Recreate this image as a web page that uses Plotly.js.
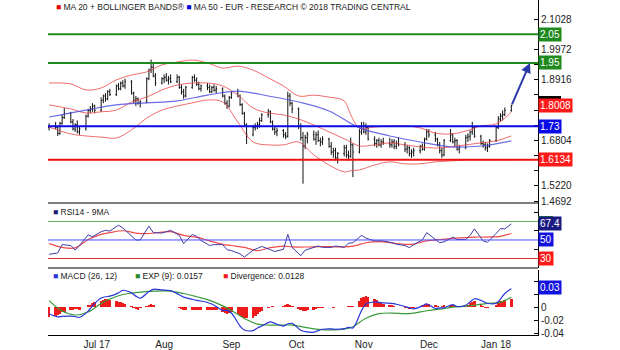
<!DOCTYPE html>
<html><head><meta charset="utf-8">
<script src="https://cdn.plot.ly/plotly-3.0.1.min.js"></script>
<style>html,body{margin:0;padding:0;background:#fff}#chart{width:620px;height:350px}</style>
</head><body><div id="chart"></div>
<script>
// ---- trading days (weekdays) of the chart ----
const firstDay = '2017-06-09', lastDay = '2018-01-08';
function tradingDays(a, b) {
  const out = []; let d = new Date(a + 'T00:00:00Z'); const e = new Date(b + 'T00:00:00Z');
  while (d <= e) { const w = d.getUTCDay(); if (w !== 0 && w !== 6) out.push(d.toISOString().slice(0, 10)); d = new Date(d.getTime() + 86400000); }
  return out;
}
const dates = tradingDays(firstDay, lastDay);

// ---- price bars ----
const open = [
 1.725,1.73,1.725,1.705,1.74,1.76,1.775,1.745,1.72,1.735,1.71,1.72,1.765,1.785,1.79,1.80,
 1.785,1.82,1.835,1.825,1.85,1.84,1.87,1.86,1.88,1.87,1.885,1.845,1.82,1.825,1.81,1.815,1.895,1.925,1.935,1.905,1.88,
 1.895,1.90,1.89,1.895,1.885,1.90,1.865,1.85,1.835,1.865,1.90,1.89,1.875,1.86,1.87,1.865,1.85,1.865,1.855,1.86,1.835,1.81,1.80,
 1.83,1.845,1.835,1.805,1.775,1.735,1.70,1.725,1.73,1.735,1.75,1.77,1.78,1.745,1.72,1.71,1.715,1.70,1.695,1.835,1.81,
 1.79,1.73,1.69,1.66,1.69,1.70,1.685,1.70,1.68,1.675,1.685,1.66,1.64,1.645,1.62,1.635,1.655,1.63,1.625,1.665,1.64,1.71,
 1.73,1.71,1.725,1.685,1.67,1.68,1.665,1.675,1.67,1.665,1.675,1.66,1.67,1.665,1.65,1.655,1.635,1.64,1.645,1.66,1.65,1.685,
 1.71,1.70,1.685,1.665,1.645,1.63,1.68,1.70,1.675,1.68,1.65,1.655,1.69,1.695,1.71,1.725,1.695,1.67,1.665,1.655,1.66,
 1.68,1.725,1.755,1.765,1.77,1.785];
const high = [
 1.74,1.745,1.73,1.745,1.77,1.793,1.78,1.755,1.74,1.75,1.73,1.77,1.79,1.80,1.81,1.805,
 1.83,1.84,1.845,1.855,1.86,1.875,1.88,1.885,1.89,1.895,1.89,1.85,1.835,1.83,1.82,1.90,1.93,1.962,1.95,1.915,1.90,
 1.91,1.915,1.905,1.91,1.91,1.905,1.875,1.86,1.87,1.905,1.91,1.90,1.885,1.875,1.88,1.875,1.87,1.875,1.87,1.865,1.84,1.82,1.835,
 1.85,1.86,1.84,1.81,1.78,1.74,1.735,1.74,1.745,1.76,1.775,1.79,1.785,1.75,1.73,1.725,1.72,1.71,1.85,1.845,1.815,
 1.795,1.74,1.71,1.70,1.71,1.715,1.71,1.715,1.69,1.695,1.69,1.675,1.655,1.655,1.64,1.665,1.665,1.645,1.69,1.67,1.72,1.745,
 1.745,1.74,1.73,1.695,1.685,1.69,1.685,1.69,1.69,1.685,1.685,1.68,1.69,1.675,1.665,1.66,1.65,1.655,1.665,1.67,1.69,1.72,
 1.72,1.71,1.69,1.675,1.655,1.685,1.72,1.705,1.69,1.685,1.665,1.70,1.705,1.715,1.745,1.73,1.70,1.68,1.675,1.67,1.685,
 1.73,1.765,1.775,1.785,1.795,1.805];
const low = [
 1.715,1.72,1.696,1.70,1.735,1.755,1.74,1.715,1.71,1.705,1.70,1.715,1.76,1.775,1.78,1.775,
 1.78,1.81,1.815,1.82,1.835,1.835,1.855,1.855,1.865,1.86,1.84,1.81,1.80,1.805,1.795,1.81,1.89,1.915,1.90,1.87,1.875,
 1.88,1.885,1.875,1.88,1.88,1.86,1.84,1.825,1.83,1.86,1.885,1.87,1.855,1.85,1.855,1.845,1.845,1.85,1.845,1.83,1.805,1.79,1.795,
 1.825,1.83,1.80,1.77,1.73,1.668,1.695,1.715,1.72,1.725,1.745,1.76,1.74,1.715,1.70,1.695,1.69,1.685,1.69,1.80,1.775,
 1.72,1.68,1.53,1.65,1.67,1.68,1.665,1.675,1.66,1.665,1.655,1.63,1.62,1.61,1.60,1.625,1.62,1.61,1.62,1.553,1.635,1.70,
 1.705,1.70,1.68,1.66,1.655,1.66,1.655,1.665,1.655,1.655,1.65,1.65,1.66,1.64,1.635,1.625,1.62,1.625,1.635,1.645,1.645,1.68,
 1.69,1.675,1.66,1.635,1.62,1.625,1.675,1.67,1.66,1.645,1.635,1.65,1.675,1.68,1.70,1.69,1.665,1.655,1.645,1.64,1.655,
 1.675,1.72,1.745,1.75,1.765,1.78];
const close = [
 1.73,1.725,1.705,1.74,1.76,1.775,1.745,1.72,1.735,1.71,1.72,1.765,1.785,1.79,1.80,1.785,
 1.82,1.835,1.825,1.85,1.84,1.87,1.86,1.88,1.87,1.885,1.845,1.82,1.825,1.81,1.815,1.895,1.925,1.935,1.905,1.88,1.895,
 1.90,1.89,1.895,1.885,1.90,1.865,1.85,1.835,1.865,1.90,1.89,1.875,1.86,1.87,1.865,1.85,1.865,1.855,1.86,1.835,1.81,1.80,1.83,
 1.845,1.835,1.805,1.775,1.735,1.70,1.725,1.73,1.735,1.75,1.77,1.78,1.745,1.72,1.71,1.715,1.70,1.695,1.835,1.81,1.79,
 1.73,1.69,1.66,1.69,1.70,1.685,1.70,1.68,1.675,1.685,1.66,1.64,1.645,1.62,1.635,1.655,1.63,1.625,1.665,1.64,1.71,1.73,
 1.71,1.725,1.685,1.67,1.68,1.665,1.675,1.67,1.665,1.675,1.66,1.67,1.665,1.65,1.655,1.635,1.64,1.645,1.66,1.65,1.685,1.71,
 1.70,1.685,1.665,1.645,1.63,1.68,1.70,1.675,1.68,1.65,1.655,1.69,1.695,1.71,1.725,1.695,1.67,1.665,1.655,1.66,1.68,
 1.725,1.755,1.765,1.77,1.785,1.8008];

// ---- Bollinger bands (MA20) and MA50, read weekly ----
const bbDates = ['2017-06-09','2017-06-19','2017-06-26','2017-07-03','2017-07-10','2017-07-17','2017-07-24','2017-07-31','2017-08-07','2017-08-14','2017-08-21','2017-08-28','2017-09-04','2017-09-11','2017-09-18','2017-09-25','2017-10-02','2017-10-09','2017-10-16','2017-10-23','2017-10-26','2017-10-30','2017-11-06','2017-11-13','2017-11-20','2017-11-27','2017-12-04','2017-12-11','2017-12-18','2017-12-25','2018-01-01','2018-01-08'];
const bbUpper = [1.880,1.877,1.856,1.863,1.891,1.908,1.919,1.943,1.953,1.960,1.950,1.932,1.939,1.925,1.898,1.870,1.835,1.838,1.831,1.818,1.770,1.724,1.727,1.731,1.731,1.724,1.706,1.703,1.713,1.731,1.738,1.779];
const bbMid   = [1.804,1.790,1.776,1.780,1.786,1.814,1.831,1.856,1.873,1.880,1.880,1.870,1.838,1.793,1.776,1.769,1.755,1.734,1.710,1.686,1.675,1.661,1.665,1.672,1.665,1.658,1.654,1.658,1.665,1.672,1.679,1.696];
const bbLower = [1.727,1.703,1.696,1.692,1.689,1.717,1.758,1.786,1.800,1.811,1.821,1.814,1.744,1.675,1.665,1.665,1.675,1.630,1.595,1.571,1.575,1.578,1.595,1.606,1.599,1.599,1.606,1.609,1.613,1.613,1.613,1.613];
const ma50Dates = ['2017-06-09','2017-06-26','2017-07-10','2017-07-24','2017-08-07','2017-08-21','2017-09-04','2017-09-18','2017-10-02','2017-10-16','2017-10-30','2017-11-13','2017-11-27','2017-12-11','2017-12-25','2018-01-08'];
const ma50 = [1.762,1.786,1.804,1.811,1.818,1.838,1.852,1.835,1.814,1.783,1.724,1.696,1.675,1.658,1.661,1.679];

// ---- key levels ----
const resistLevels = [2.05, 1.95];
const pivotLevel = 1.73;
const supportLevel = 1.6134;
const targetDate = '2018-01-16 14:00';
const targetPrice = 1.95;

// ---- RSI 14 (every 2nd day + last) and its 9MA (every 4th day + last) ----
const rsi = [34.5,36,45,44,39,44,55.5,53.5, 59,60.4,59.7,66,63,54,50,50, 65,58,57.5,59,60.4,55,46,56,
 54,49.5,44,45,45,39.5,38.5,35, 31.5,39,41,43,39.5,37.5,40,56, 42,33,39,42,43.5,42,42,43.5,
 42,46.5,47,55,52,49,49,49, 47,45.5,44,41.7,45,50,58,50, 47,48,53,50.5,50.5,55,62,49, 47.5,57,62.3,62, 67.4];
const rsiMA = [46,42,41.5,50.5,56,58,60,57.5,57,58.5,59,55,53,49,45.3,44,42,38.5,41.7,43.4,42.5,42.4,42.8,42.8,42.5,43.3,47,48.2,46.8,45.3,45.5,49,50.5,51.8,52.5,53.2,53.2,54,57];
const rsiLevels = [70, 50, 30];
const rsiLast = 67.4;

// ---- MACD (26,12) every 2nd day + last, EXP(9) every 4th day + last, divergence daily ----
const macd = [-0.010,-0.0148,-0.014,-0.0138,-0.0145,-0.0155,-0.006,0.002,
 0.014,0.016,0.017,0.022,0.026,0.022,0.017,0.014,
 0.024,0.0275,0.0265,0.026,0.0255,0.019,0.0155,0.012,
 0.0105,0.0095,0.006,0.003,-0.005,-0.005,-0.009,-0.029,
 -0.035,-0.036,-0.032,-0.029,-0.0225,-0.025,-0.029,-0.0255,
 -0.025,-0.0355,-0.0375,-0.0385,-0.036,-0.034,-0.0335,-0.034,
 -0.033,-0.031,-0.032,-0.005,0.005,0.008,0.0075,0.0065,
 0.006,0.0045,0.001,-0.001,-0.0025,0.002,0.005,-0.002,
 -0.001,-0.001,0.004,0.001,0.003,0.008,0.013,0.009,
 0.006,0.006,0.0125,0.021, 0.0285];
const signal = [0.010,-0.006,-0.012,-0.0075,0.0058,0.0125,0.0195,0.0223,0.0242,0.025,0.0248,0.021,0.016,0.0105,0.002,-0.005,-0.0175,-0.026,-0.0275,-0.0275,-0.0275,-0.031,-0.034,-0.035,-0.034,-0.030,-0.017,-0.010,-0.009,-0.010,-0.009,-0.0055,-0.003,0,0.0015,0.003,0.006,0.0075,0.0157];
const divergence = [
 -0.015,-0.014,-0.012,-0.010,-0.008,-0.007,-0.004,-0.004,-0.003,-0.003,-0.004,0.001,0.003,0.004,0.006,0.008,
 0.010,0.011,0.012,0.012,0.011,0.010,0.008,0.008,0.007,0.005,0.002,-0.001,-0.003,-0.004,-0.002,0.002,0.004,0.005,0.003,0.001,0.001,
 0.001,0.001,0.001,0.001,0,-0.002,-0.003,-0.004,-0.004,-0.004,-0.004,-0.005,-0.005,-0.005,-0.004,-0.005,-0.004,-0.004,-0.005,-0.008,-0.009,-0.010,-0.009,
 -0.008,-0.011,-0.013,-0.015,-0.016,-0.017,-0.016,-0.014,-0.011,-0.008,-0.006,-0.002,0.001,0.002,0.001,0.001,0.002,0.003,0.005,0.004,0.002,
 -0.003,-0.005,-0.006,-0.006,-0.005,-0.004,-0.003,-0.002,-0.001,-0.001,0.001,0,-0.001,0,0.001,0.001,0,0.002,0.002,0.002,0.010,0.014,
 0.016,0.017,0.016,0.013,0.011,0.008,0.006,0.005,0.003,0.003,0.002,0.001,0,-0.002,-0.002,-0.003,-0.002,-0.001,0.001,0.003,0.004,0.005,
 0.005,0.003,0.002,0.001,0.002,0.003,0.004,0.003,0.002,0.001,0,0.002,0.004,0.006,0.008,0.009,0.005,0.002,-0.001,-0.002,0.001,
 0.004,0.007,0.009,0.010,0.011,0.0128];
const macdLabel = 0.03, expLast = 0.0157, divLast = 0.0128;

// ---- axis labels ----
const priceTicks = [2.1028,2.0500,1.9972,1.9444,1.8916,1.8388,1.7860,1.7332,1.6804,1.6276,1.5748,1.5220,1.4692];
const priceTickText = ['2.1028','','1.9972','','1.8916','','','','1.6804','','','1.5220','1.4692'];
const monthTicks = ['2017-07-01','2017-08-01','2017-09-01','2017-10-01','2017-11-01','2017-12-01','2018-01-01'];
const monthText = ['Jul 17','Aug','Sep','Oct','Nov','Dec','Jan 18'];
const macdTicks = [0.04,0.02,0,-0.02,-0.04];
const macdTickText = ['','','0','-0.02','-0.04'];

// ---- derived x positions for sampled series ----
const n = dates.length;
const every = k => dates.filter((d, i) => i % k === 0 || i === n - 1);
const x2 = every(2), x4 = every(4);

// ---- geometry helpers (pixels -> paper) ----
const W = 490, H = 335, L0 = 48;
const px = p => (p - L0) / W, py = p => (H - p) / H;
const FONT = 'Liberation Sans, Arial, sans-serif';

const traces = [
  {type:'scatter', mode:'lines', x:bbDates, y:bbUpper, line:{color:'rgba(236,70,70,0.8)', width:1, shape:'spline'}, xaxis:'x', yaxis:'y', hoverinfo:'skip'},
  {type:'scatter', mode:'lines', x:bbDates, y:bbMid, line:{color:'rgba(236,70,70,0.8)', width:1, shape:'spline'}, xaxis:'x', yaxis:'y', hoverinfo:'skip'},
  {type:'scatter', mode:'lines', x:bbDates, y:bbLower, line:{color:'rgba(236,70,70,0.8)', width:1, shape:'spline'}, xaxis:'x', yaxis:'y', hoverinfo:'skip'},
  {type:'scatter', mode:'lines', x:ma50Dates, y:ma50, line:{color:'rgba(70,70,225,0.8)', width:1.2, shape:'spline'}, xaxis:'x', yaxis:'y', hoverinfo:'skip'},
  {type:'ohlc', x:dates, open:open, high:high, low:low, close:close, xaxis:'x', yaxis:'y',
   increasing:{line:{color:'#111', width:1}}, decreasing:{line:{color:'#111', width:1}}, tickwidth:0.45, hoverinfo:'skip'},
  {type:'scatter', mode:'lines', x:x4, y:rsiMA, line:{color:'#f04a4a', width:1.2, shape:'spline'}, xaxis:'x', yaxis:'y2', hoverinfo:'skip'},
  {type:'scatter', mode:'lines', x:x2, y:rsi, line:{color:'#3d3da8', width:1}, xaxis:'x', yaxis:'y2', hoverinfo:'skip'},
  {type:'bar', x:dates, y:divergence, marker:{color:'#ee1c1c'}, width:1.25*86400000, xaxis:'x', yaxis:'y3', hoverinfo:'skip'},
  {type:'scatter', mode:'lines', x:x4, y:signal, line:{color:'#3a9a3a', width:1.2, shape:'spline'}, xaxis:'x', yaxis:'y3', hoverinfo:'skip'},
  {type:'scatter', mode:'lines', x:x2, y:macd, line:{color:'#2a36d8', width:1.2, shape:'spline'}, xaxis:'x', yaxis:'y3', hoverinfo:'skip'}
];

const lvlColor = {g:'#1e8a1e', b:'#0a0ae6', r:'#ee1111'};
const shapes = [
  ...resistLevels.map(v => ({type:'line', xref:'paper', x0:0, x1:1, yref:'y', y0:v, y1:v, line:{color:lvlColor.g, width:2}})),
  {type:'line', xref:'paper', x0:0, x1:1, yref:'y', y0:pivotLevel, y1:pivotLevel, line:{color:lvlColor.b, width:2}},
  {type:'line', xref:'paper', x0:0, x1:1, yref:'y', y0:supportLevel, y1:supportLevel, line:{color:lvlColor.r, width:2}},
  {type:'line', xref:'paper', x0:0, x1:1, yref:'y2', y0:rsiLevels[0], y1:rsiLevels[0], line:{color:'#62b062', width:1}},
  {type:'line', xref:'paper', x0:0, x1:1, yref:'y2', y0:rsiLevels[1], y1:rsiLevels[1], line:{color:'#4a4aff', width:1}},
  {type:'line', xref:'paper', x0:0, x1:1, yref:'y2', y0:rsiLevels[2], y1:rsiLevels[2], line:{color:'#e03030', width:1}},
  {type:'line', xref:'paper', x0:0, x1:1, yref:'paper', y0:py(203), y1:py(203), line:{color:'#000', width:1}},
  {type:'line', xref:'paper', x0:0, x1:1, yref:'paper', y0:py(268), y1:py(268), line:{color:'#000', width:1}},
  {type:'rect', xref:'paper', x0:1, x1:1 + 23/W, yref:'paper', y0:py(99), y1:py(96), fillcolor:'#000', line:{width:0}},
  {type:'rect', xref:'paper', x0:1, x1:1 + 15/W, yref:'paper', y0:py(219), y1:py(216), fillcolor:'#1e8a1e', line:{width:0}}
];

const box = (v, yref, txt, bg) => ({xref:'paper', x:1, xanchor:'left', yref:yref, y:v, yanchor:'middle', text:txt,
  showarrow:false, bgcolor:bg, borderpad:1, font:{family:FONT, size:10, color:'#fff'}});
const legendTxt = (x, y, html) => ({xref:'paper', yref:'paper', x:px(x), y:py(y), xanchor:'left', yanchor:'middle',
  text:html, showarrow:false, font:{family:FONT, size:8.5, color:'#222'}});

const annotations = [
  legendTxt(54, 7, '<span style="color:#e00000">■</span> MA 20 + BOLLINGER BANDS® <span style="color:#0000dd">■</span> MA 50 - EUR - RESEARCH © 2018 TRADING CENTRAL'),
  legendTxt(51, 212, '<span style="color:#1a1a70">■</span> RSI14 - 9MA'),
  legendTxt(51, 276, '<span style="color:#2a36d8">■</span> MACD (26, 12)'),
  legendTxt(133, 276, '<span style="color:#2a8a2a">■</span> EXP (9): ' + expLast),
  legendTxt(221, 276, '<span style="color:#ee1c1c">■</span> Divergence: ' + divLast),
  box(resistLevels[0], 'y', resistLevels[0].toFixed(2), lvlColor.g),
  box(resistLevels[1], 'y', resistLevels[1].toFixed(2), lvlColor.g),
  box(close[n - 1], 'y', close[n - 1].toFixed(4), '#ff1a1a'),
  box(pivotLevel, 'y', pivotLevel.toFixed(2), lvlColor.b),
  box(supportLevel, 'y', supportLevel.toFixed(4), '#ff1a1a'),
  box(rsiLast, 'y2', rsiLast.toFixed(1), '#1a1a80'),
  box(rsiLevels[1], 'y2', String(rsiLevels[1]), '#1212e0'),
  box(rsiLevels[2], 'y2', String(rsiLevels[2]), '#ff1a1a'),
  box(macdLabel, 'y3', macdLabel.toFixed(2), '#1212e0'),
  {x:targetDate, y:targetPrice, xref:'x', yref:'y', ax:dates[n - 1], ay:close[n - 1], axref:'x', ayref:'y',
   text:'', showarrow:true, arrowhead:2, arrowsize:1, arrowwidth:2, arrowcolor:'#2b3aa8', standoff:0}
];

const yCommon = {side:'right', anchor:'x', showline:true, linecolor:'#000', linewidth:1, ticks:'inside', ticklen:4,
  tickcolor:'#000', showgrid:false, zeroline:false, tickfont:{family:FONT, size:10, color:'#222'}, fixedrange:true};

const layout = {
  width:620, height:350, margin:{l:48, r:82, t:0, b:15}, paper_bgcolor:'#fff', plot_bgcolor:'#fff',
  showlegend:false, bargap:0, font:{family:FONT},
  xaxis:{type:'date', range:['2017-06-08 12:00','2018-01-20 07:00'], anchor:'y3', domain:[0,1],
    tickvals:monthTicks, ticktext:monthText, ticks:'', showgrid:false, zeroline:false, showline:true,
    linecolor:'#000', linewidth:1, tickfont:{family:FONT, size:10, color:'#222'}, rangeslider:{visible:false}},
  yaxis: Object.assign({}, yCommon, {domain:[py(203), 1], range:[1.4628, 2.1689], tickvals:priceTicks, ticktext:priceTickText}),
  yaxis2: Object.assign({}, yCommon, {domain:[py(268), py(203)], range:[19.7, 90], tickvals:[40, 60, 80], ticktext:['', '', '']}),
  yaxis3: Object.assign({}, yCommon, {domain:[0, py(270)], range:[-0.0428, 0.0572], tickvals:macdTicks, ticktext:macdTickText}),
  shapes:shapes, annotations:annotations
};

Plotly.newPlot('chart', traces, layout, {displayModeBar:false, staticPlot:true});
</script></body></html>
